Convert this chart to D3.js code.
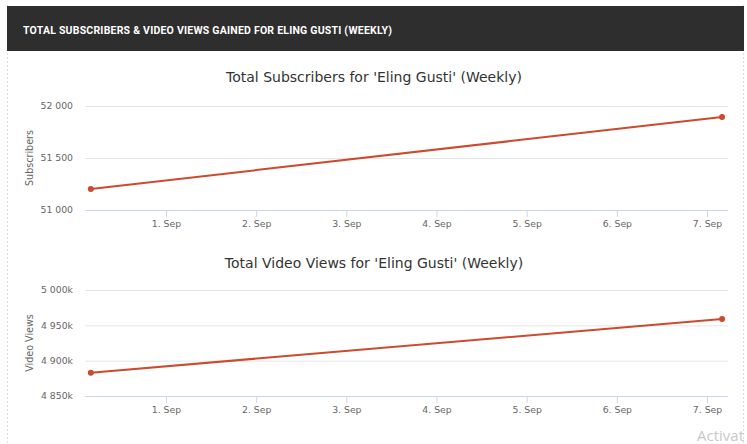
<!DOCTYPE html>
<html>
<head>
<meta charset="utf-8">
<script src="https://cdn.jsdelivr.net/npm/d3@7"></script>
<style>
  body { margin: 0; background: #fff; }
  svg { display: block; }
</style>
</head>
<body>
<div id="chart"></div>
<script>
// weekly values
var dates = ["2023-08-31T04:00", "2023-09-07T04:00"];
var subscribers = [51202, 51895];
var videoViews = [4883000, 4959000];
var subTicks = [51000, 51500, 52000];
var viewTicks = [4850000, 4900000, 4950000, 5000000];
var dayTicks = ["2023-09-01", "2023-09-02", "2023-09-03", "2023-09-04", "2023-09-05", "2023-09-06", "2023-09-07"];

var W = 747, H = 444;
var parse = d3.timeParse("%Y-%m-%dT%H:%M");
var parseDay = d3.timeParse("%Y-%m-%d");
var loc = d3.formatLocale({decimal: ".", thousands: "\u00a0", grouping: [3], currency: ["", ""]});
var fmt = loc.format(",");

var svg = d3.select("#chart").append("svg")
    .attr("width", W).attr("height", H);

// card borders
svg.append("line").attr("x1", 7.5).attr("x2", 7.5).attr("y1", 5).attr("y2", H)
    .attr("stroke", "#ddd").attr("stroke-dasharray", "2,2");
svg.append("line").attr("x1", 743.5).attr("x2", 743.5).attr("y1", 5).attr("y2", H)
    .attr("stroke", "#ddd").attr("stroke-dasharray", "2,2");

// header
svg.append("rect").attr("x", 7).attr("y", 6).attr("width", 737).attr("height", 45).attr("fill", "#2e2e2e");
svg.append("text").attr("x", 23).attr("y", 34)
    .attr("fill", "#fff").attr("font-family", "Roboto").attr("font-weight", 700)
    .attr("font-size", 10.5).attr("textLength", 369)
    .text("TOTAL SUBSCRIBERS & VIDEO VIEWS GAINED FOR ELING GUSTI (WEEKLY)");

// x scale shared by both charts
var x = d3.scaleTime()
    .domain([new Date(2023, 7, 31, 2, 27), new Date(2023, 8, 7, 5, 35)])
    .range([85, 728]);

function drawChart(cfg) {
    var g = svg.append("g");
    var y = d3.scaleLinear().domain(cfg.domain).range([cfg.bottom, cfg.top]);

    g.append("text").attr("x", 374).attr("y", cfg.titleY)
        .attr("text-anchor", "middle").attr("fill", "#333")
        .attr("font-family", "DejaVu Sans").attr("font-size", 14)
        .text(cfg.title);

    // gridlines + y labels
    var yAxis = d3.axisLeft(y).tickValues(cfg.ticks).tickSize(-(x.range()[1] - x.range()[0]))
        .tickPadding(12).tickFormat(cfg.format);
    var ya = g.append("g").attr("transform", "translate(85,0)").call(yAxis);
    ya.select(".domain").remove();
    ya.selectAll(".tick line").attr("stroke", "#e6e6e6");
    ya.selectAll(".tick text").attr("fill", "#666").attr("font-family", "DejaVu Sans").attr("font-size", 9.3);

    g.append("text")
        .attr("transform", "translate(33," + ((cfg.top + cfg.bottom) / 2) + ") rotate(-90)")
        .attr("text-anchor", "middle").attr("fill", "#666")
        .attr("font-family", "DejaVu Sans").attr("font-size", 9.6)
        .text(cfg.axisTitle);

    // x axis
    var xAxis = d3.axisBottom(x).tickValues(dayTicks.map(parseDay))
        .tickSize(7).tickPadding(3).tickFormat(d3.timeFormat("%-d. %b"));
    var xa = g.append("g").attr("transform", "translate(0," + cfg.bottom + ")").call(xAxis);
    xa.select(".domain").attr("stroke", "#ccd6eb").attr("d", "M85,0.5H728");
    xa.selectAll(".tick line").attr("stroke", "#ccd6eb");
    xa.selectAll(".tick text").attr("fill", "#666").attr("font-family", "DejaVu Sans").attr("font-size", 9.3);

    var pts = dates.map(function (d, i) { return {t: parse(d), v: cfg.values[i]}; });
    var line = d3.line().x(function (d) { return x(d.t); }).y(function (d) { return y(d.v); });
    g.append("path").datum(pts).attr("d", line)
        .attr("fill", "none").attr("stroke", "#cc4a2d").attr("stroke-width", 2);
    g.selectAll("circle.pt").data(pts).enter().append("circle")
        .attr("cx", function (d) { return x(d.t); })
        .attr("cy", function (d) { return y(d.v); })
        .attr("r", 3).attr("fill", "#cc4a2d");
}

drawChart({
    title: "Total Subscribers for 'Eling Gusti' (Weekly)", titleY: 82,
    axisTitle: "Subscribers", values: subscribers, ticks: subTicks,
    domain: [51000, 52000], top: 106, bottom: 210,
    format: function (d) { return fmt(d); }
});
drawChart({
    title: "Total Video Views for 'Eling Gusti' (Weekly)", titleY: 268,
    axisTitle: "Video Views", values: videoViews, ticks: viewTicks,
    domain: [4850000, 5000000], top: 290, bottom: 396,
    format: function (d) { return fmt(d / 1000) + "k"; }
});

// OS watermark visible (cut) in the screenshot
svg.append("text").attr("x", 697).attr("y", 441)
    .attr("fill", "#c8c8c8").attr("font-family", "Open Sans").attr("font-size", 15)
    .text("Activat");
</script>
</body>
</html>
